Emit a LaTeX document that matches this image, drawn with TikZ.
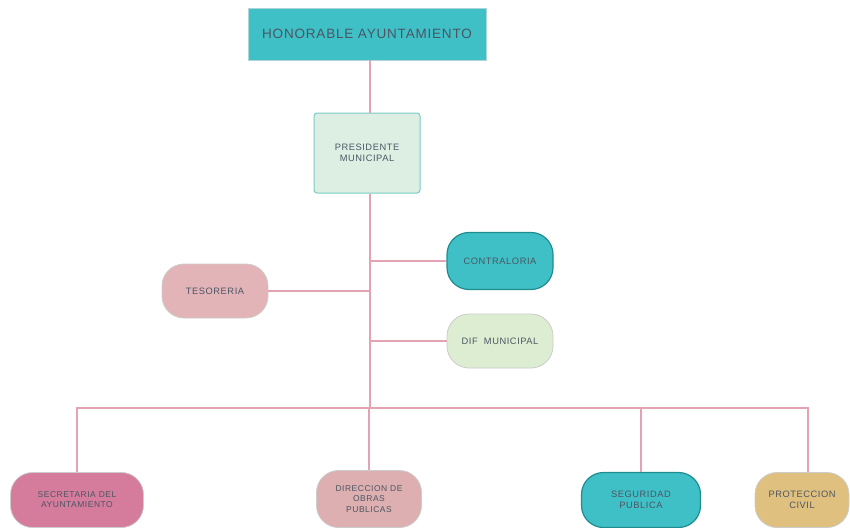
\documentclass[tikz,border=0pt]{standalone}
\usepackage{fontspec}
\setmainfont{Liberation Sans}
\newfontfamily\spacedfont[LetterSpace=6]{Liberation Sans}
\usetikzlibrary{positioning}

\definecolor{linkpink}{HTML}{E3A3B3}
\definecolor{tealfill}{HTML}{3FBFC6}
\definecolor{tealdark}{HTML}{1F8C8E}
\definecolor{mintfill}{HTML}{DCEFE2}
\definecolor{mintline}{HTML}{78CCC6}
\definecolor{rosefill}{HTML}{E2B4B8}
\definecolor{greenfill}{HTML}{DCEDD2}
\definecolor{magentafill}{HTML}{D57C9C}
\definecolor{dustfill}{HTML}{DDAFB0}
\definecolor{tanfill}{HTML}{DFC07E}
\definecolor{labeltext}{HTML}{4C5663}

\begin{document}
\begin{tikzpicture}[x=1pt,y=-1pt]
      \tikzstyle{link} = [draw=linkpink, line width=1.1pt]
      \tikzstyle{pill} = [draw=black!20, line width=0.8pt, rounded corners=22pt, minimum height=55pt, align=center, text=labeltext, font=\spacedfont\fontsize{9.3}{11}\selectfont]

      \useasboundingbox (0,0) rectangle (850,527);

      \node (ayuntamiento) [fill=tealfill, draw=tealfill!80!black!40!white, minimum width=238pt, minimum height=52pt, text=labeltext, font=\spacedfont\fontsize{13.5}{15}\selectfont] at (367,34) {HONORABLE AYUNTAMIENTO};
      \node (presidente) [fill=mintfill, draw=mintline, line width=1pt, rounded corners=3pt, minimum width=106pt, minimum height=80pt, align=center, text=labeltext, font=\spacedfont\fontsize{9.3}{11}\selectfont] at (367,153) {PRESIDENTE\\MUNICIPAL};

      \node (contraloria) [pill, fill=tealfill, draw=tealdark, line width=1.2pt, minimum width=106pt, minimum height=57pt] at (500,261) {CONTRALORIA};
      \node (tesoreria) [pill, fill=rosefill, minimum width=106pt, minimum height=54pt] at (215,291) {TESORERIA};
      \node (dif) [pill, fill=greenfill, minimum width=106pt, minimum height=54pt] at (500,341) {DIF\ \ MUNICIPAL};

      \coordinate (bus) at (370,408);

      \node (secretaria) [pill, fill=magentafill, minimum width=133pt, font=\spacedfont\fontsize{8.5}{10}\selectfont] at (77,500) {SECRETARIA DEL\\AYUNTAMIENTO};
      \node (obras) [pill, fill=dustfill, minimum width=105pt, minimum height=57pt, font=\spacedfont\fontsize{8.5}{10.5}\selectfont] at (369,499) {DIRECCION DE\\OBRAS\\PUBLICAS};
      \node (seguridad) [pill, fill=tealfill, draw=tealdark, line width=1.2pt, minimum width=119pt] at (641,500) {SEGURIDAD\\PUBLICA};
      \node (proteccion) [pill, fill=tanfill, minimum width=94pt] at (802,500) {PROTECCION\\CIVIL};

      % trunk
      \draw [link] (ayuntamiento.south -| 370,0) -- (presidente.north -| 370,0);
      \draw [link] (presidente.south -| 370,0) -- (bus);

      % side branches
      \draw [link] (contraloria.west) -- (contraloria.west -| bus);
      \draw [link] (tesoreria.east) -- (tesoreria.east -| bus);
      \draw [link] (dif.west) -- (dif.west -| bus);

      % bottom row
      \draw [link] (bus) -| (secretaria.north);
      \draw [link] (bus) -| (obras.north);
      \draw [link] (bus) -| (seguridad.north);
      \draw [link] (bus) -| (proteccion.north -| 808,0);
    \end{tikzpicture}
\end{document}
